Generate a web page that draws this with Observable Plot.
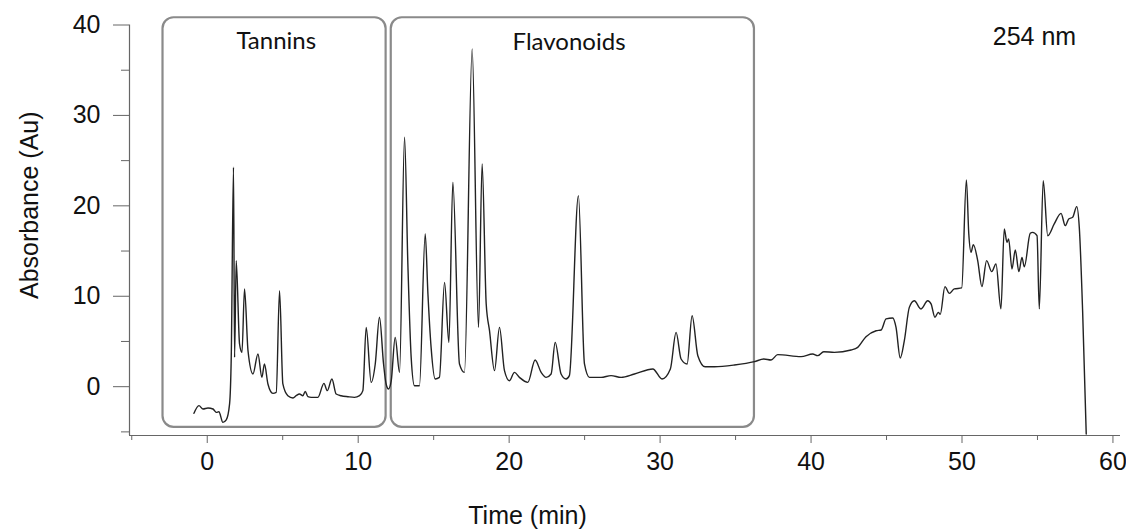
<!DOCTYPE html>
<html>
<head>
<meta charset="utf-8">
<script src="https://cdn.jsdelivr.net/npm/d3@7"></script>
<script src="https://cdn.jsdelivr.net/npm/@observablehq/plot@0.6"></script>
<style>
  html, body { margin: 0; padding: 0; background: #fff; }
</style>
</head>
<body>
<div id="chart"></div>
<script>
// Retention time (min)
const times = [
  -0.88, -0.55, -0.28, 0.05, 0.38, 0.60, 0.77, 1.04, 1.26, 1.48,
  1.59, 1.74, 1.81, 1.92, 2.14, 2.30, 2.47, 2.70, 3.03, 3.36,
  3.62, 3.79, 4.02, 4.35, 4.57, 4.79, 5.01, 5.34, 5.68, 5.89,
  6.11, 6.34, 6.49, 6.67, 6.89, 7.33, 7.73, 7.95, 8.26, 8.54,
  8.87, 9.32, 9.75, 10.09, 10.31, 10.53, 10.86, 11.13, 11.41, 11.68,
  11.85, 12.01, 12.19, 12.45, 12.74, 13.07, 13.29, 13.51, 13.73, 14.06,
  14.44, 14.62, 14.83, 15.10, 15.38, 15.72, 16.01, 16.27, 16.71, 17.04,
  17.55, 17.97, 18.21, 18.48, 18.70, 19.03, 19.36, 19.69, 20.02, 20.35,
  20.68, 21.24, 21.72, 22.12, 22.45, 22.78, 23.05, 23.44, 23.77, 23.99,
  24.59, 24.99, 25.32, 26.09, 26.75, 27.42, 28.30, 29.52, 30.13, 30.68,
  31.06, 31.39, 31.79, 32.12, 32.50, 32.98, 33.60, 34.92, 36.25, 36.87,
  37.35, 37.79, 39.34, 40.11, 40.44, 40.84, 41.54, 42.65, 43.09, 43.64,
  44.31, 44.64, 44.97, 45.41, 45.63, 45.91, 46.18, 46.51, 46.84, 47.28,
  47.73, 47.95, 48.21, 48.43, 48.56, 48.87, 49.16, 49.49, 49.98, 50.29,
  50.45, 50.60, 50.75, 51.04, 51.32, 51.63, 51.97, 52.25, 52.58, 52.80,
  52.98, 53.09, 53.31, 53.53, 53.77, 53.97, 54.13, 54.52, 54.68, 54.97,
  55.12, 55.38, 55.68, 56.11, 56.56, 56.84, 57.07, 57.33, 57.60, 57.77,
  57.99, 58.23
];
// Absorbance (Au)
const absorbance = [
  -2.95, -2.10, -2.47, -2.36, -2.47, -2.84, -2.77, -3.95, -3.68, -1.91,
  3.24, 24.26, 3.24, 13.94, 4.72, 3.79, 10.81, 3.98, 1.40, 3.62,
  1.03, 2.51, 0.30, -0.74, -0.63, 10.62, 0.30, -1.00, -1.25, -1.00,
  -0.81, -1.00, -0.52, -1.11, -1.18, -1.18, 0.37, -0.44, 0.85, -0.81,
  -1.00, -1.11, -1.18, -1.00, -0.44, 6.56, 0.48, 2.51, 7.67, 2.51,
  0.30, -0.25, 0.66, 5.45, 1.58, 27.58, 13.57, 3.24, 0.11, 0.11,
  16.89, 10.25, 4.35, 0.85, 1.03, 11.54, 4.90, 22.60, 2.51, 1.58,
  37.36, 6.56, 24.63, 9.15, 6.19, 1.77, 6.56, 1.77, 0.66, 1.58,
  1.03, 0.48, 2.95, 1.58, 1.03, 1.40, 4.90, 1.40, 0.85, 1.22,
  21.13, 2.51, 1.03, 1.03, 1.22, 1.03, 1.40, 1.96, 0.85, 1.96,
  6.00, 3.06, 2.51, 7.85, 3.43, 2.21, 2.21, 2.40, 2.77, 3.06,
  2.95, 3.54, 3.32, 3.62, 3.43, 3.87, 3.79, 4.06, 4.35, 5.53,
  6.19, 6.27, 7.49, 7.60, 6.56, 3.17, 5.09, 8.77, 9.51, 8.60,
  9.51, 9.15, 7.67, 8.22, 8.00, 11.06, 10.32, 10.81, 10.92, 22.87,
  16.89, 14.86, 15.71, 13.94, 11.06, 13.94, 12.72, 13.57, 8.60, 17.44,
  15.96, 16.34, 13.02, 15.12, 12.72, 14.30, 13.27, 16.96, 17.07, 16.70,
  8.60, 22.79, 16.70, 18.00, 19.17, 17.81, 18.55, 18.73, 19.91, 17.62,
  8.41, -5.23
];

// Axis ticks
const xTicks = [0, 10, 20, 30, 40, 50, 60];
const xMinorTicks = [-5, 5, 15, 25, 35, 45, 55];
const yTicks = [0, 10, 20, 30, 40];
const yMinorTicks = [-5, 5, 15, 25, 35];
const xDomain = [-5.15, 60.5];
const yDomain = [-5.4, 40];

// Compound-class regions (boxes) and their labels
const regionNames = ["Tannins", "Flavonoids"];
const regionStart = [-2.93, 12.19];
const regionEnd = [11.85, 36.25];
const regionBottom = [-4.5, -4.5];
const regionTop = [40.8, 40.8];
const regionLabelX = [4.57, 23.97];
const regionLabelY = [37.3, 37.2];

// Wavelength note
const wavelengthText = ["254 nm"];
const wavelengthX = [54.8];
const wavelengthY = [37.8];

const xLabel = "Time (min)";
const yLabel = "Absorbance (Au)";

const trace = times.map((t, i) => ({t, a: absorbance[i]}));
const regions = regionNames.map((name, i) => ({
  name, x1: regionStart[i], x2: regionEnd[i], y1: regionBottom[i], y2: regionTop[i],
  lx: regionLabelX[i], ly: regionLabelY[i]
}));
const notes = wavelengthText.map((text, i) => ({text, x: wavelengthX[i], y: wavelengthY[i]}));

const chart = Plot.plot({
  width: 1126,
  height: 530,
  marginLeft: 129,
  marginRight: 6,
  marginTop: 24.5,
  marginBottom: 95,
  x: {domain: xDomain},
  y: {domain: yDomain},
  style: {
    fontFamily: "'Liberation Sans', Arial, sans-serif",
    fontSize: "25px",
    color: "#111",
    background: "#fff",
    overflow: "visible"
  },
  marks: [
    Plot.rect(regions, {x1: "x1", x2: "x2", y1: "y1", y2: "y2", rx: 11, fill: "none", stroke: "#8a8a8a", strokeWidth: 2.2}),
    Plot.ruleX([xDomain[0]], {stroke: "#666", strokeWidth: 1.2}),
    Plot.ruleY([yDomain[0]], {stroke: "#666", strokeWidth: 1.2}),
    Plot.axisY({ticks: yTicks, tickSize: 16, tickPadding: 13, label: null, stroke: "#666"}),
    Plot.axisY({ticks: yMinorTicks, tickSize: 8, tickFormat: () => "", label: null, stroke: "#666"}),
    Plot.axisX({ticks: xTicks, tickSize: 8, tickPadding: 9, label: null, stroke: "#666"}),
    Plot.axisX({ticks: xMinorTicks, tickSize: 5, tickFormat: () => "", label: null, stroke: "#666"}),
    Plot.line(trace, {x: "t", y: "a", curve: "monotone-x", stroke: "#222", strokeWidth: 1.4}),
    Plot.text(regions, {x: "lx", y: "ly", text: "name", fontFamily: "Lato, 'Open Sans', sans-serif", fontSize: 24, lineAnchor: "bottom", fill: "#111"}),
    Plot.text(notes, {x: "x", y: "y", text: "text", fontSize: 25, lineAnchor: "bottom", fill: "#111"}),
    Plot.text([yLabel], {frameAnchor: "left", rotate: -90, textAnchor: "middle", lineAnchor: "middle", dx: -100, dy: -25, fontSize: 25, fill: "#111"}),
    Plot.text([xLabel], {frameAnchor: "bottom", textAnchor: "middle", lineAnchor: "middle", dx: -97.5, dy: 80, fontSize: 25, fill: "#111"})
  ]
});
document.getElementById("chart").appendChild(chart);
</script>
</body>
</html>
